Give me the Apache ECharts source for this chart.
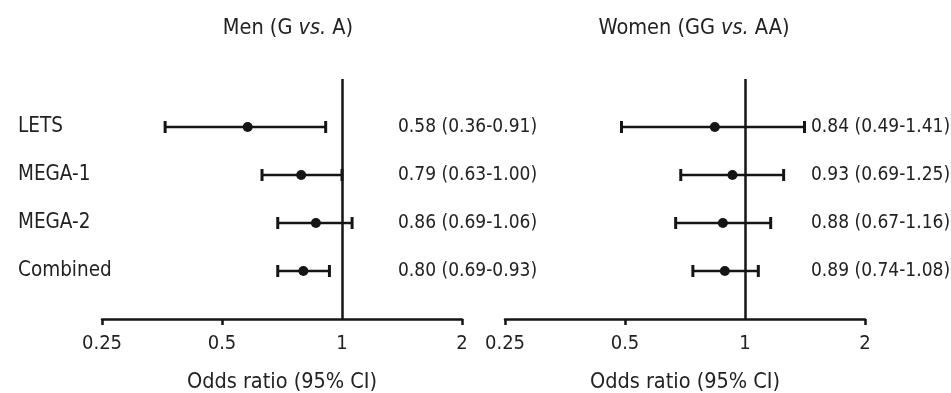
<!DOCTYPE html>
<html>
<head>
<meta charset="utf-8">
<script src="https://cdn.jsdelivr.net/npm/echarts@6/dist/echarts.min.js"></script>
<style>
html,body{margin:0;padding:0;background:#fff;}
#chart{width:951px;height:393px;}
</style>
</head>
<body>
<div id="chart"></div>
<script>
// ---- Data ----
const categories = ['LETS', 'MEGA-1', 'MEGA-2', 'Combined'];
const menOR   = [0.58, 0.79, 0.86, 0.80];
const menLow  = [0.36, 0.63, 0.69, 0.69];
const menHigh = [0.91, 1.00, 1.06, 0.93];
const womenOR   = [0.84, 0.93, 0.88, 0.89];
const womenLow  = [0.49, 0.69, 0.67, 0.74];
const womenHigh = [1.41, 1.25, 1.16, 1.08];
const tickValues = [0.25, 0.5, 1, 2];
const tickMarks = [0.25, 0.5, 2];

const FONT = '"Liberation Sans Narrow", "DejaVu Sans Condensed", sans-serif';
const INK = '#151515';
const TXT = '#222';
const FS_VAL = 19, FS_CAT = 20.5, FS_TICK = 20, FS_NAME = 21.5, FS_TITLE = 21.5;

function fmt(v){ return v.toFixed(2); }
function labelsFor(or, lo, hi){ return or.map((v,i)=> fmt(v)+' ('+fmt(lo[i])+'-'+fmt(hi[i])+')'); }
const menText = labelsFor(menOR, menLow, menHigh);
const womenText = labelsFor(womenOR, womenLow, womenHigh);

const chart = echarts.init(document.getElementById('chart'), null, {renderer:'canvas'});

const gridTop = 79, gridH = 240;

function xAxisFor(gi){
  return {
    type:'log', logBase:2, min:0.25, max:2, gridIndex:gi, position:'bottom',
    name:'Odds ratio (95% CI)', nameLocation:'middle', nameGap:52,
    nameTextStyle:{fontFamily:FONT, fontSize:FS_NAME, color:TXT},
    axisLine:{show:true, onZero:false, lineStyle:{color:INK, width:2.5}},
    axisTick:{show:true, length:6, lineStyle:{color:INK, width:2.5}, customValues:tickMarks},
    axisLabel:{fontFamily:FONT, fontSize:FS_TICK, color:TXT, margin:15, customValues:tickValues,
      formatter:v=>String(Math.round(v*100)/100)},
    splitLine:{show:false}, minorTick:{show:false}
  };
}
function hiddenX(gi){ return {type:'value', gridIndex:gi, show:false, min:0, max:1}; }
function yAxisFor(gi, texts, showLabels, margin, fs){
  return {
    type:'value', gridIndex:gi, min:0, max:5, interval:1, inverse:true,
    axisLine:{show:false}, axisTick:{show:false}, splitLine:{show:false},
    axisLabel:{show:showLabels, fontFamily:FONT, fontSize:fs, color:TXT, align:'left', margin:margin,
      formatter:v=> texts[v-1] || ''}
  };
}

function errorSeries(xi, yi, lo, hi){
  return {
    type:'custom', xAxisIndex:xi, yAxisIndex:yi,
    data: lo.map((l,i)=>[i+1, l, hi[i]]),
    encode:{x:[1,2], y:0},
    silent:true, clip:false,
    renderItem:function(params, api){
      const y = api.value(0);
      const p1 = api.coord([api.value(1), y]);
      const p2 = api.coord([api.value(2), y]);
      const c = 6;
      const st = {stroke:INK, lineWidth:2.5};
      const cs = {stroke:INK, lineWidth:3};
      return {type:'group', children:[
        {type:'line', shape:{x1:p1[0], y1:p1[1], x2:p2[0], y2:p2[1]}, style:st},
        {type:'line', shape:{x1:p1[0], y1:p1[1]-c, x2:p1[0], y2:p1[1]+c}, style:cs},
        {type:'line', shape:{x1:p2[0], y1:p2[1]-c, x2:p2[0], y2:p2[1]+c}, style:cs}
      ]};
    }
  };
}
function pointSeries(xi, yi, or){
  return {
    type:'scatter', xAxisIndex:xi, yAxisIndex:yi,
    data: or.map((v,i)=>[v, i+1]),
    symbol:'circle', symbolSize:10, itemStyle:{color:INK, opacity:1},
    silent:true, z:5,
    markLine:{symbol:'none', silent:true, label:{show:false},
      lineStyle:{color:INK, width:2.5, type:'solid'}, data:[{xAxis:1}]}
  };
}

const titleRich = {
  n:{fontFamily:FONT, fontSize:FS_TITLE, color:TXT, fontWeight:'normal'},
  i:{fontFamily:FONT, fontSize:FS_TITLE, color:TXT, fontStyle:'italic', fontWeight:'normal'}
};

const gridBase = {top:gridTop, height:gridH, outerBoundsMode:'none', containLabel:false};

chart.setOption({
  animation:false,
  backgroundColor:'#fff',
  title:[
    {text:'{n|Men (G }{i|vs.}{n| A)}', left:283, top:12, textAlign:'center', textStyle:{fontWeight:'normal', rich:titleRich}},
    {text:'{n|Women (GG }{i|vs.}{n| AA)}', left:689, top:12, textAlign:'center', textStyle:{fontWeight:'normal', rich:titleRich}}
  ],
  grid:[
    Object.assign({left:102, width:360}, gridBase),
    Object.assign({left:505, width:360}, gridBase),
    Object.assign({left:398, width:1}, gridBase),
    Object.assign({left:811, width:1}, gridBase)
  ],
  xAxis:[xAxisFor(0), xAxisFor(1), hiddenX(2), hiddenX(3)],
  yAxis:[
    yAxisFor(0, categories, true, 84, FS_CAT),
    yAxisFor(1, categories, false, 0, FS_CAT),
    yAxisFor(2, menText, true, 0, FS_VAL),
    yAxisFor(3, womenText, true, 0, FS_VAL)
  ],
  series:[
    errorSeries(0,0,menLow,menHigh),
    pointSeries(0,0,menOR),
    errorSeries(1,1,womenLow,womenHigh),
    pointSeries(1,1,womenOR)
  ]
});
</script>
</body>
</html>
